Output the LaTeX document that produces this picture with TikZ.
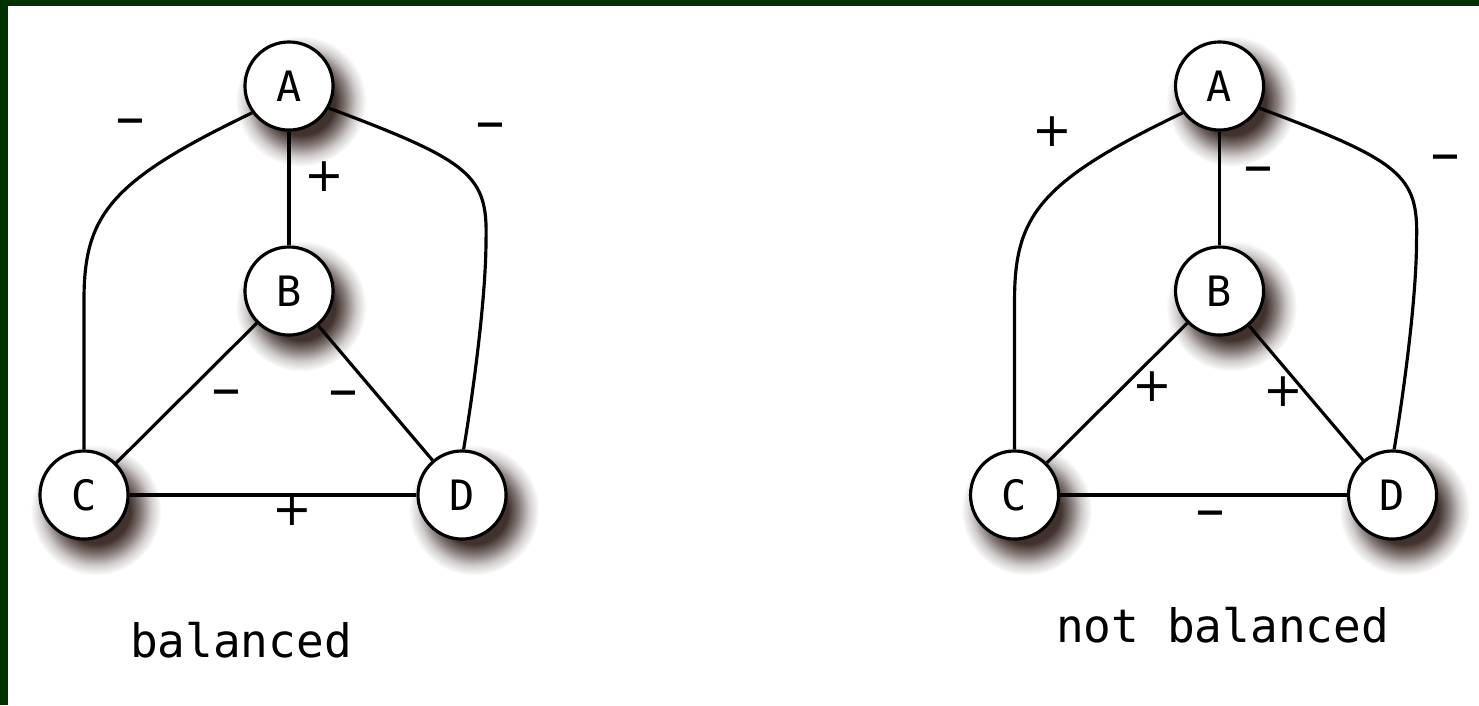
\documentclass[tikz,border=0pt]{standalone}
\usepackage{fontspec}
\setmainfont{DejaVu Sans Mono}
\newfontfamily\signfont{DejaVu Sans}
\usetikzlibrary{shadows,fadings}
\definecolor{framegreen}{RGB}{0,50,0}
\definecolor{shadowcol}{RGB}{45,28,24}
\pgfdeclareradialshading{softshadowshade}{\pgfpointorigin}{color(0pt)=(white); color(13bp)=(white); color(17bp)=(black!35); color(21bp)=(black!75); color(25bp)=(black); color(50bp)=(black)}
\pgfdeclarefading{softshadow}{\pgfuseshading{softshadowshade}}
\tikzset{
  vertex/.style={circle, draw=black, line width=0.9pt, fill=white, minimum size=0.88cm, inner sep=0pt,
    font=\fontsize{11.9}{12}\selectfont,
    circular drop shadow={shadow scale=1.48, shadow xshift=2.3pt, shadow yshift=-2.9pt, fill=shadowcol, path fading=softshadow, opacity=0.9}},
  edge/.style={line width=0.9pt, draw=black},
  plussign/.style={inner sep=0pt, text height=0.56em, text depth=0pt, font=\signfont\fontsize{13.5}{14}\selectfont},
  minussign/.style={inner sep=0pt, text height=0.56em, text depth=0pt, font=\signfont\fontsize{17}{18}\selectfont},
  caption/.style={inner sep=0pt, anchor=base, font=\fontsize{13.1}{15}\selectfont},
}
\begin{document}
\begin{tikzpicture}[x=0.01cm, y=-0.01cm]
\fill[white] (0,0) rectangle (1479,705);
\fill[framegreen] (0,0) rectangle (8,705);
\fill[framegreen] (0,0) rectangle (1479,6);
\useasboundingbox (0,0) rectangle (1479,705);

% ---------- balanced ----------
\node[vertex] (A1) at (289,86) {A};
\node[vertex] (B1) at (289,291) {B};
\node[vertex] (C1) at (84,495) {C};
\node[vertex] (D1) at (462,495) {D};
\draw[edge] (A1) -- (B1);
\draw[edge] (B1) -- (C1);
\draw[edge] (B1) -- (D1);
\draw[edge] (C1) -- (D1);
\draw[edge] (A1.216) .. controls (110,181) and (84,215) .. (84,300) -- (C1.north);
\draw[edge] (A1.-29) .. controls (470,161) and (488,175) .. (486,240) .. controls (486,300) and (472,400) .. (D1.88);
\node[minussign] (s1ac) at (130,128) {–};
\node[plussign] (s1ab) at (324,182) {+};
\node[minussign] (s1ad) at (490,132) {–};
\node[minussign] (s1bc) at (226,399) {–};
\node[minussign] (s1bd) at (343,400) {–};
\node[plussign] (s1cd) at (292,516) {+};
\node[caption] (cap1) at (241,657) {balanced};

% ---------- not balanced ----------
\begin{scope}[xshift=9.3cm]
\node[vertex] (A2) at (289,86) {A};
\node[vertex] (B2) at (289,291) {B};
\node[vertex] (C2) at (84,495) {C};
\node[vertex] (D2) at (462,495) {D};
\draw[edge] (A2) -- (B2);
\draw[edge] (B2) -- (C2);
\draw[edge] (B2) -- (D2);
\draw[edge] (C2) -- (D2);
\draw[edge] (A2.216) .. controls (110,181) and (84,215) .. (84,300) -- (C2.north);
\draw[edge] (A2.-29) .. controls (470,161) and (488,175) .. (486,240) .. controls (486,300) and (472,400) .. (D2.88);
\node[plussign] (s2ac) at (122,137) {+};
\node[minussign] (s2ab) at (328,176) {–};
\node[minussign] (s2ad) at (515,164) {–};
\node[plussign] (s2bc) at (222,392) {+};
\node[plussign] (s2bd) at (353,397) {+};
\node[minussign] (s2cd) at (280,520) {–};
\node[caption] (cap2) at (292,642) {not balanced};
\end{scope}
\end{tikzpicture}
\end{document}
